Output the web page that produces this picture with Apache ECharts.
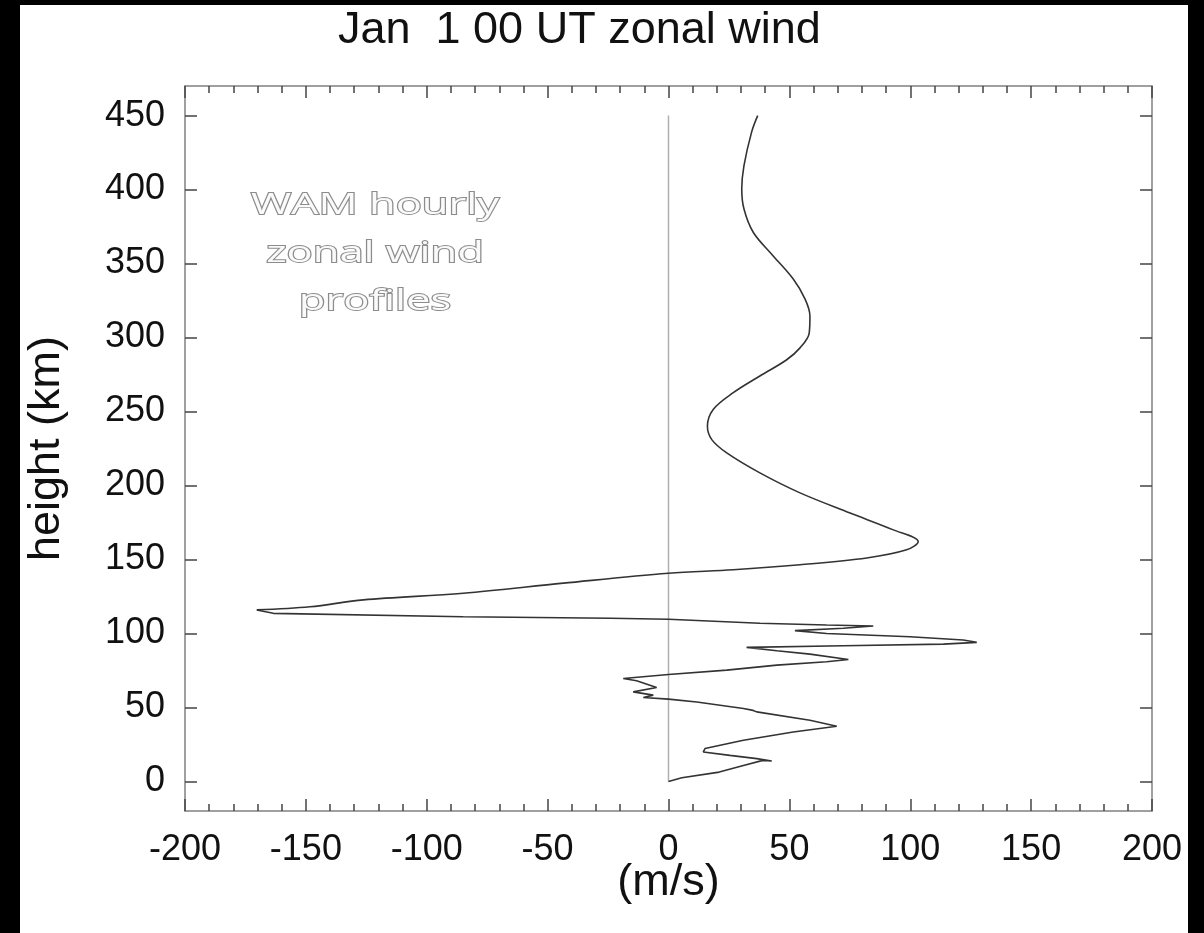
<!DOCTYPE html>
<html>

<head>
    <title>Jan 1 00 UT zonal wind</title>
    <script src="https://cdn.jsdelivr.net/npm/echarts@6/dist/echarts.min.js"></script>
    <style>
        body { margin: 0; background: #000; }
        #myChart { position: absolute; left: 20px; top: 5px; width: 1168px; height: 928px; background: #fff; }
    </style>
</head>

<body>
    <div id="myChart"></div>

    <script>
        // zonal wind (m/s) and height (km) from bottom to top
        const lowerWind = [0, 5.5, 21, 31, 39, 42.7, 36.5, 25.4, 14.4, 15.1, 31, 51.6, 69.6, 58.5, 36.5, 35, 31, 11.7, 0,
            -10.4, -6.3, -14.6, -4.9, -13.2, -18.7, 0, 24.1, 44.8, 65.4, 74.4, 58.5, 44.8, 32.3, 72.3, 113.7, 127.5,
            121.9, 99.9, 65.4, 52.3, 72.3, 84.7, 65.4, 37.8, 0, -24, -84.9, -163.5, -170.3];
        const lowerHeight = [0, 2.5, 6.3, 10.8, 14.2, 13.8, 15.4, 17.6, 19.9, 22.2, 27.8, 33.4, 37.3, 41.3, 47, 48, 49.3, 53.7, 55.6,
            56.7, 58.3, 60.5, 63.5, 68, 69.6, 72.3, 75.2, 78.6, 80.9, 82.4, 86, 88.3, 90.6, 91.7, 92.8, 94,
            95.6, 97.8, 100, 101.9, 103.5, 105, 105.7, 106.9, 109.6, 110.3, 111.3, 113.6, 115.9];
        const upperWind = [-170.3, -148.3, -126.2, -84.9, -43.5, 0, 26.8, 54.4, 82, 98.5, 103.3, 93, 75.1, 54.4, 37.8, 24.1,
            17.9, 16.1, 18.5, 26.8, 37.8, 48.9, 54.4, 58.2, 58.5, 56.5, 51.6, 43.4, 35.1, 31.2, 30.3, 31.2, 34.4, 36.9];
        const upperHeight = [115.9, 118, 122.7, 127.2, 134, 140.7, 143, 146.4, 151, 156.5, 162, 170, 181.4, 195, 208.5, 222,
            231, 240, 251.4, 262.7, 274, 285, 293, 303, 314.6, 326, 339.5, 355, 371, 387, 400.5, 416, 439, 450];
        const zeroWind = [0, 0];
        const zeroHeight = [0, 450];
        const heightTicks = [0, 50, 100, 150, 200, 250, 300, 350, 400, 450];

        const zip = (xs, ys) => xs.map((x, i) => [x, ys[i]]);

        const myChart = echarts.init(document.getElementById('myChart'));
        const font = 'Liberation Sans, Arial, Helvetica, sans-serif';
        const frameColor = '#808080';
        const tickStyle = { color: '#444', width: 1.5 };

        const xBase = {
            type: 'value',
            min: -200,
            max: 200,
            interval: 50,
            axisLine: { onZero: false, lineStyle: { color: frameColor, width: 1.5 } },
            axisTick: { inside: true, length: 12, lineStyle: tickStyle },
            minorTick: { show: true, splitNumber: 5, length: 7, lineStyle: tickStyle },
            splitLine: { show: false }
        };
        const yBase = {
            type: 'value',
            min: -20,
            max: 470,
            axisLine: { onZero: false, lineStyle: { color: frameColor, width: 1.5 } },
            axisTick: { inside: true, length: 12, lineStyle: tickStyle, customValues: heightTicks },
            splitLine: { show: false }
        };

        const option = {
            animation: false,
            title: {
                text: 'Jan  1 00 UT zonal wind',
                left: 313,
                top: -18,
                textStyle: { fontFamily: font, fontSize: 45, fontWeight: 'normal', color: '#111' }
            },
            grid: { left: 165, top: 81, right: 36, bottom: 122, containLabel: false, outerBoundsMode: 'none' },
            xAxis: [
                Object.assign({}, xBase, {
                    position: 'bottom',
                    name: '(m/s)',
                    nameLocation: 'middle',
                    nameGap: 33,
                    nameMoveOverlap: false,
                    nameTextStyle: { fontFamily: font, fontSize: 45, color: '#111' },
                    axisLabel: { fontFamily: font, fontSize: 36, color: '#111', margin: 8 }
                }),
                Object.assign({}, xBase, { position: 'top', axisLabel: { show: false } })
            ],
            yAxis: [
                Object.assign({}, yBase, {
                    position: 'left',
                    name: 'height (km)',
                    nameLocation: 'middle',
                    nameGap: 100,
                    nameMoveOverlap: false,
                    nameTextStyle: { fontFamily: font, fontSize: 45, color: '#111' },
                    axisLabel: { fontFamily: font, fontSize: 36, color: '#111', margin: 20, customValues: heightTicks }
                }),
                Object.assign({}, yBase, { position: 'right', axisLabel: { show: false } })
            ],
            graphic: [{
                type: 'text',
                x: 355,
                y: 176,
                scaleX: 1.45,
                style: {
                    text: 'WAM hourly\nzonal wind\nprofiles',
                    font: '30px "Open Sans"',
                    lineHeight: 48,
                    textAlign: 'center',
                    textVerticalAlign: 'top',
                    fill: '#fafafa',
                    stroke: '#8c8c8c',
                    lineWidth: 1.8,
                    shadowBlur: 6,
                    shadowColor: 'rgba(0,0,0,0.55)',
                    shadowOffsetX: 2,
                    shadowOffsetY: 4
                }
            }],
            series: [
                {
                    type: 'line',
                    data: zip(zeroWind, zeroHeight),
                    symbol: 'none',
                    lineStyle: { color: '#b0b0b0', width: 1.5 },
                    z: 1
                },
                {
                    type: 'line',
                    data: zip(lowerWind, lowerHeight),
                    symbol: 'none',
                    lineStyle: { color: '#333', width: 1.6 },
                    z: 2
                },
                {
                    type: 'line',
                    data: zip(upperWind, upperHeight),
                    symbol: 'none',
                    smooth: 0.35,
                    lineStyle: { color: '#333', width: 1.6 },
                    z: 2
                }
            ]
        };

        myChart.setOption(option);
    </script>
</body>

</html>
